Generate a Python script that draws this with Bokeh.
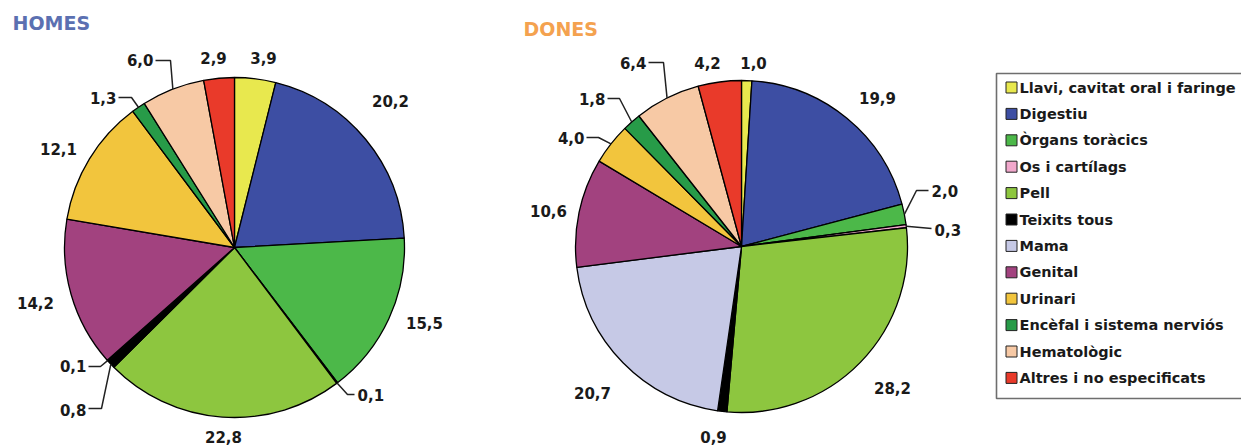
import math
from bokeh.plotting import figure
from bokeh.models import Range1d, ColumnDataSource
from bokeh.core.properties import value
from bokeh.embed import file_html
from bokeh.resources import INLINE

# ---------------- data ----------------
categories = ["Llavi, cavitat oral i faringe", "Digestiu", "Òrgans toràcics",
              "Os i cartílags", "Pell", "Teixits tous", "Mama", "Genital",
              "Urinari", "Encèfal i sistema nerviós", "Hematològic",
              "Altres i no especificats"]
homes = [3.9, 20.2, 15.5, 0.1, 22.8, 0.8, 0.1, 14.2, 12.1, 1.3, 6.0, 2.9]
dones = [1.0, 19.9, 2.0, 0.3, 28.2, 0.9, 20.7, 10.6, 4.0, 1.8, 6.4, 4.2]
titles = ["HOMES", "DONES"]

# ---------------- styles / layout ----------------
colors = ["#e8e84e", "#3d4ea3", "#4cb849", "#f1a8cc", "#8dc63f", "#000000",
          "#c6c9e6", "#a2427f", "#f2c53d", "#279b48", "#f7c9a5", "#e93a2a"]
title_colors = ["#5b70b1", "#f4a24f"]
W, H = 1241, 448
FONT = "DejaVu Sans"

# pie centres and radii in page pixels
pies = [dict(cx=234, cy=247, r=170, title_xy=(12, 22)),
        dict(cx=741, cy=246, r=166, title_xy=(523, 28))]

# label layout (page pixels): x, y, align, leader elbow points
layout_homes = [
    (263, 57, "center", None),
    (390, 100, "center", None),
    (424, 322, "center", None),
    (357, 394, "left", [(347, 394), (354, 394)]),
    (223, 436, "center", None),
    (86, 409, "right", [(101, 408), (88, 408)]),
    (86, 365, "right", [(100, 366), (88, 366)]),
    (35, 302, "center", None),
    (58, 148, "center", None),
    (116, 97, "right", [(131, 97), (118, 97)]),
    (153, 59, "right", [(170, 60), (155, 60)]),
    (213, 57, "center", None),
]
layout_dones = [
    (753, 62, "center", None),
    (877, 97, "center", None),
    (931, 190, "left", [(916, 190), (928, 190)]),
    (934, 229, "left", [(931, 228)]),
    (892, 387, "center", None),
    (713, 436, "center", None),
    (592, 392, "center", None),
    (548, 210, "center", None),
    (584, 137, "right", [(598, 137), (586, 137)]),
    (605, 98, "right", [(619, 98), (607, 98)]),
    (646, 62, "right", [(663, 62), (648, 62)]),
    (707, 62, "center", None),
]

# legend layout
leg_box = dict(left=996, right=1250, top=73, bottom=398)
leg_x_sw = 1011
leg_x_txt = 1019
leg_y0 = 87
leg_dy = 26.4


def Y(y):
    return H - y


p = figure(width=W, height=H, output_backend="svg", toolbar_location=None,
           x_range=Range1d(0, W), y_range=Range1d(0, H), min_border=0,
           background_fill_color="white", border_fill_color="white")
p.axis.visible = False
p.xgrid.visible = False
p.ygrid.visible = False
p.outline_line_color = None

for series, pie, lay, title, tcol in zip([homes, dones], pies,
                                         [layout_homes, layout_dones],
                                         titles, title_colors):
    total = sum(series)
    cum = [0.0]
    for v in series:
        cum.append(cum[-1] + v / total)
    starts = [math.pi / 2 - 2 * math.pi * cum[i + 1] for i in range(len(series))]
    ends = [math.pi / 2 - 2 * math.pi * cum[i] for i in range(len(series))]
    src = ColumnDataSource(dict(x=[pie["cx"]] * len(series),
                                y=[Y(pie["cy"])] * len(series),
                                start=starts, end=ends, color=colors,
                                cat=categories, val=series))
    p.wedge(x="x", y="y", radius=pie["r"], start_angle="start",
            end_angle="end", fill_color="color", line_color="black",
            line_width=1.3, source=src)

    # title
    p.text(x=[pie["title_xy"][0]], y=[Y(pie["title_xy"][1])], text=[title],
           text_font=value(FONT), text_font_style="bold",
           text_font_size="19px", text_color=tcol,
           text_align="left", text_baseline="middle")

    # labels and leaders
    for i, v in enumerate(series):
        tx, ty, align, elbow = lay[i]
        lab = f"{v:.1f}".replace(".", ",")
        p.text(x=[tx], y=[Y(ty)], text=[lab], text_font=value(FONT),
               text_font_style="bold", text_font_size="15px",
               text_color="#1a1a1a", text_align=align,
               text_baseline="middle")
        if elbow:
            mid = (cum[i] + cum[i + 1]) / 2 * 2 * math.pi
            ex = pie["cx"] + pie["r"] * math.sin(mid)
            ey = pie["cy"] - pie["r"] * math.cos(mid)
            xs = [ex] + [e[0] for e in elbow]
            ys = [Y(ey)] + [Y(e[1]) for e in elbow]
            p.line(xs, ys, line_color="#222222", line_width=1.5)

# legend box
p.quad(left=[leg_box["left"]], right=[leg_box["right"]],
       top=[Y(leg_box["top"])], bottom=[Y(leg_box["bottom"])],
       fill_color=None, line_color="#6e6e6e", line_width=1.6)
leg_y = [Y(leg_y0 + i * leg_dy) for i in range(len(categories))]
p.rect(x=[leg_x_sw] * len(categories), y=leg_y, width=11, height=11,
       fill_color=colors, line_color="#222222", line_width=1)
p.text(x=[leg_x_txt] * len(categories), y=leg_y, text=categories,
       text_font=value(FONT), text_font_style="bold", text_font_size="14.5px",
       text_color="#1a1a1a", text_align="left", text_baseline="middle")

open("out.html", "w").write(file_html(p, INLINE))
